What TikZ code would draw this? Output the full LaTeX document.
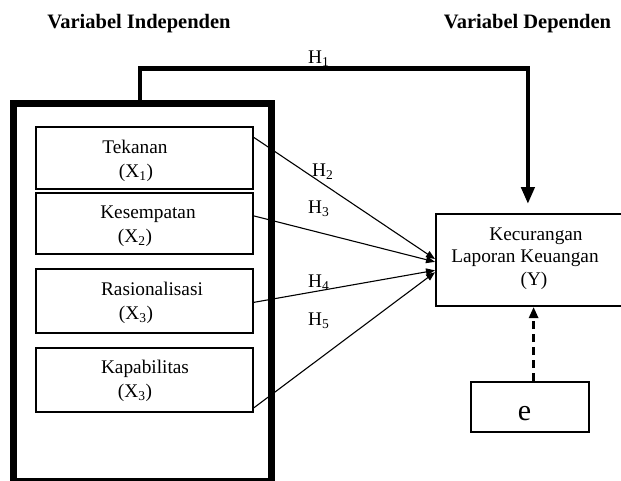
\documentclass[tikz,border=0pt]{standalone}
\usepackage{fontspec}
\setmainfont{Liberation Serif}
\usetikzlibrary{arrows.meta,calc}
\begin{document}
\begin{tikzpicture}[x=1pt,y=-1pt,
  txt/.style={inner sep=0pt,anchor=base,font=\fontsize{19.3}{23}\selectfont},
  ttl/.style={inner sep=0pt,anchor=base,font=\fontsize{20.5}{24}\selectfont\bfseries},
  hlab/.style={inner sep=0pt,anchor=base west,font=\fontsize{19.3}{23}\selectfont},
  varbox/.style={draw,line width=2pt,minimum width=217pt,inner sep=0pt},
  thin/.style={line width=1.1pt,-{Triangle[length=9pt,width=7pt]}},
]
\clip (0,0) rectangle (621,480);
\fill[white] (0,0) rectangle (621,480);
% titles
\node[ttl] (t1) at (139,28) {Variabel Independen};
\node[ttl] (t2) at (527.5,28) {Variabel Dependen};
% outer box
\node[draw,line width=7pt,minimum width=258pt,minimum height=378pt,inner sep=0pt] (outer) at (142.5,292.5) {};
% inner boxes
\node[varbox,minimum height=62pt] (b1) at (144.5,158) {};
\node[varbox,minimum height=61pt] (b2) at (144.5,223.5) {};
\node[varbox,minimum height=64pt] (b3) at (144.5,301) {};
\node[varbox,minimum height=64pt] (b4) at (144.5,380) {};
\node[txt] (b1a) at (135,153) {Tekanan};
\node[txt] (b1b) at (136,177) {(X\textsubscript{1})};
\node[txt] (b2a) at (148,218) {Kesempatan};
\node[txt] (b2b) at (135,242) {(X\textsubscript{2})};
\node[txt] (b3a) at (152,295) {Rasionalisasi};
\node[txt] (b3b) at (136,319) {(X\textsubscript{3})};
\node[txt] (b4a) at (145,373) {Kapabilitas};
\node[txt] (b4b) at (135,397) {(X\textsubscript{3})};
% dependent box
\node[draw,line width=2pt,minimum width=188pt,minimum height=92pt,inner sep=0pt] (Y) at (530,260) {};
\node[txt] (ya) at (536,240) {Kecurangan};
\node[txt] (yb) at (525,262) {Laporan Keuangan};
\node[txt] (yc) at (534,285) {(Y)};
% error box
\node[draw,line width=2pt,minimum width=118pt,minimum height=50pt,inner sep=0pt] (e) at (530,407) {};
\node[inner sep=0pt,anchor=base,font=\fontsize{30}{34}\selectfont] (et) at (524.5,420) {e};
% H1
\coordinate (h1s) at ($(outer.north west)!0.49!(outer.north east)$);
\coordinate (h1e) at ($(Y.north west)!0.489!(Y.north east)$);
\draw[line width=4.5pt,-{Triangle[length=17pt,width=13pt]},shorten >=9pt] (h1s) -- ++(0,-31.5) -| (h1e);
\node[hlab] (H1) at (308,63) {H\textsubscript{1}};
% H2..H5
\draw[thin] ($(b1.north east)!0.18!(b1.south east)$) -- ($(Y.north west)!0.49!(Y.south west)$);
\draw[thin] ($(b2.north east)!0.38!(b2.south east)$) -- ($(Y.north west)!0.52!(Y.south west)$);
\draw[thin] ($(b3.north east)!0.52!(b3.south east)$) -- ($(Y.north west)!0.61!(Y.south west)$);
\draw[thin] ($(b4.north east)!0.92!(b4.south east)$) -- ($(Y.north west)!0.63!(Y.south west)$);
\node[hlab] (H2) at (312,176) {H\textsubscript{2}};
\node[hlab] (H3) at (308,213) {H\textsubscript{3}};
\node[hlab] (H4) at (308,287) {H\textsubscript{4}};
\node[hlab] (H5) at (308,325) {H\textsubscript{5}};
% dashed
\coordinate (es) at ($(e.north west)!0.53!(e.north east)$);
\draw[line width=2.5pt,dash pattern=on 8pt off 5pt,-{Triangle[length=11pt,width=9pt]}] (es) -- (es |- Y.south);
\end{tikzpicture}
\end{document}
